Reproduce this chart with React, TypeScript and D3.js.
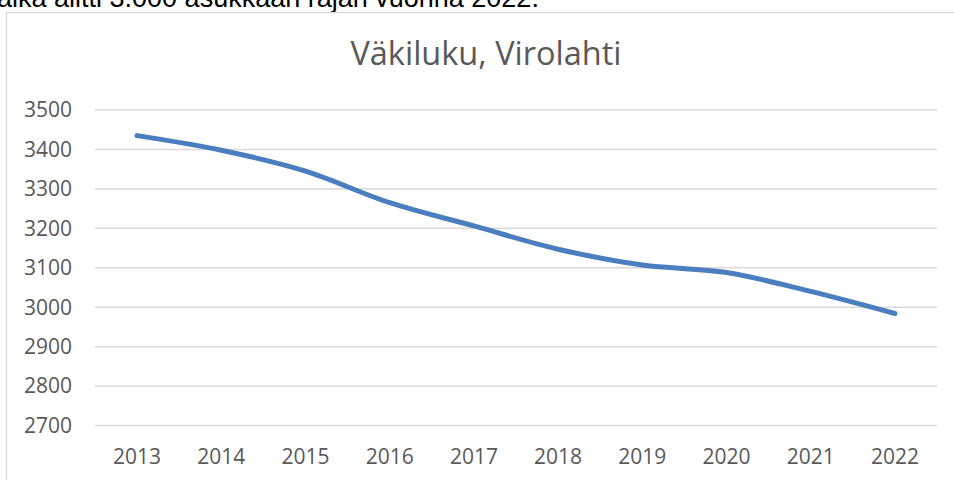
import * as React from "react";
import * as d3 from "d3";

const years = ["2013", "2014", "2015", "2016", "2017", "2018", "2019", "2020", "2021", "2022"];
const population = [3435, 3398, 3345, 3265, 3206, 3147, 3107, 3088, 3040, 2984];
const yTicks = [2700, 2800, 2900, 3000, 3100, 3200, 3300, 3400, 3500];
const title = "Väkiluku, Virolahti";
const captionAbove = "aika alitti 3.000 asukkaan rajan vuonna 2022.";

const WIDTH = 954;
const HEIGHT = 480;

export default function App() {
  const svgRef = React.useRef<SVGSVGElement>(null);

  React.useEffect(() => {
    if (!svgRef.current) return;
    const svg = d3.select(svgRef.current);
    svg.selectAll("*").remove();

    const margin = { top: 110, right: 17, bottom: 54.5, left: 95 };
    const font = "'Open Sans', 'Noto Sans', sans-serif";

    // cut-off line of text from the page above the chart
    svg.append("text")
      .attr("x", -3)
      .attr("y", 6.5)
      .attr("font-family", "'Liberation Sans', Arial, sans-serif")
      .attr("font-size", "27px")
      .attr("fill", "#000")
      .text(captionAbove);

    // chart frame, runs off the page on right and bottom
    svg.append("rect")
      .attr("x", 6.5)
      .attr("y", 12.5)
      .attr("width", WIDTH + 20)
      .attr("height", HEIGHT + 20)
      .attr("fill", "#fff")
      .attr("stroke", "#d9d9d9")
      .attr("stroke-width", 1.3);

    const xScale = d3.scaleBand<string>()
      .domain(years)
      .range([margin.left, WIDTH - margin.right]);
    const yScale = d3.scaleLinear()
      .domain([2700, 3500])
      .range([HEIGHT - margin.bottom, margin.top]);

    // title
    svg.append("text")
      .attr("x", 486)
      .attr("y", 65)
      .attr("text-anchor", "middle")
      .attr("font-family", font)
      .attr("font-size", "32.5px")
      .attr("fill", "#595959")
      .text(title);

    // gridlines
    svg.append("g")
      .selectAll("line")
      .data(yTicks)
      .enter().append("line")
      .attr("x1", margin.left)
      .attr("x2", WIDTH - margin.right)
      .attr("y1", d => yScale(d))
      .attr("y2", d => yScale(d))
      .attr("stroke", "#d9d9d9")
      .attr("stroke-width", 1.5);

    // y labels
    svg.append("g")
      .selectAll("text")
      .data(yTicks)
      .enter().append("text")
      .attr("x", 72)
      .attr("y", d => yScale(d))
      .attr("dy", "0.35em")
      .attr("text-anchor", "end")
      .attr("font-family", font)
      .attr("font-size", "21px")
      .attr("fill", "#595959")
      .text(d => String(d));

    // x labels
    svg.append("g")
      .selectAll("text")
      .data(years)
      .enter().append("text")
      .attr("x", d => xScale(d)! + xScale.bandwidth() / 2)
      .attr("y", 464)
      .attr("text-anchor", "middle")
      .attr("font-family", font)
      .attr("font-size", "21px")
      .attr("fill", "#595959")
      .text(d => d);

    const line = d3.line<number>()
      .x((_, i) => xScale(years[i])! + xScale.bandwidth() / 2)
      .y(d => yScale(d))
      .curve(d3.curveCardinal.tension(0));

    svg.append("path")
      .datum(population)
      .attr("d", line)
      .attr("fill", "none")
      .attr("stroke", "#4a7ebf")
      .attr("stroke-width", 5)
      .attr("stroke-linecap", "round")
      .attr("stroke-linejoin", "round");
  }, []);

  return (
    <svg
      ref={svgRef}
      width={WIDTH}
      height={HEIGHT}
      style={{ position: "absolute", left: 0, top: 0, background: "#fff" }}
    />
  );
}
